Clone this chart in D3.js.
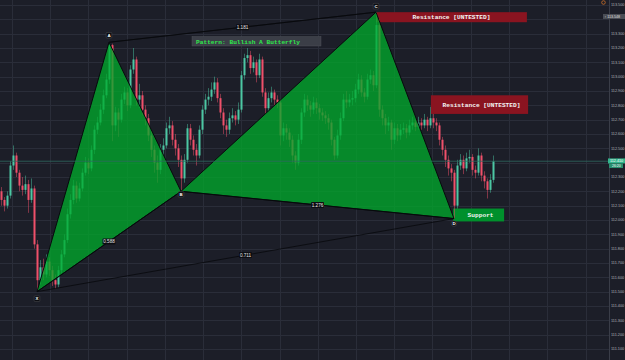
<html>
<head>
<script src="https://d3js.org/d3.v7.min.js"></script>
<style>
  body { margin: 0; background: #1c1e28; }
  svg { display: block; }
</style>
</head>
<body>
<svg id="chart" width="625" height="360"></svg>
<script>
// candle data, one entry per bar
var opens = [112.20,112.14,112.10,112.17,112.38,112.45,112.33,112.24,112.21,112.25,112.14,112.22,111.83,111.58,111.67,111.62,111.71,111.65,111.58,111.55,
 111.65,111.76,111.86,112.04,112.14,112.24,112.15,112.22,112.33,112.40,112.36,112.49,112.63,112.68,112.77,112.87,112.98,113.22,112.66,112.75,
 112.70,112.84,112.89,112.80,113.05,113.12,112.84,112.87,112.77,112.71,112.59,112.49,112.40,112.35,112.49,112.52,112.64,112.66,112.56,112.50,
 112.42,112.29,112.42,112.64,112.56,112.49,112.45,112.63,112.77,112.84,112.86,112.91,112.96,112.85,112.75,112.66,112.63,112.71,112.73,112.70,
 112.77,113.01,113.13,113.15,113.06,113.10,113.01,113.12,112.89,112.78,112.85,112.89,112.84,112.82,112.59,112.64,112.61,112.56,112.45,112.40,
 112.56,112.75,112.84,112.80,112.77,112.82,112.78,112.75,112.73,112.71,112.68,112.56,112.45,112.59,112.71,112.84,112.82,112.84,112.85,112.91,
 112.98,112.89,112.86,112.98,113.01,112.94,113.36,112.77,112.71,112.66,112.68,112.56,112.64,112.59,112.63,112.64,112.61,112.66,112.68,112.65,
 112.68,112.66,112.70,112.66,112.71,112.68,112.66,112.56,112.49,112.42,112.36,112.33,112.10,112.38,112.42,112.36,112.43,112.44,112.35,112.33,
 112.45,112.31,112.27,112.21,112.28];
var highs = [112.23,112.16,112.20,112.41,112.52,112.47,112.35,112.30,112.31,112.28,112.29,112.24,111.86,111.72,111.73,111.76,111.74,111.68,111.62,111.68,
 111.79,111.90,112.08,112.18,112.28,112.27,112.26,112.36,112.44,112.43,112.52,112.66,112.72,112.81,112.91,113.02,113.24,113.23,112.79,112.78,
 112.88,112.93,112.92,113.08,113.20,113.14,112.95,112.90,112.80,112.74,112.62,112.52,112.45,112.53,112.57,112.68,112.72,112.69,112.60,112.53,
 112.45,112.46,112.67,112.67,112.59,112.53,112.66,112.80,112.88,112.92,112.96,113.00,112.99,112.88,112.78,112.70,112.75,112.78,112.76,112.82,
 113.04,113.16,113.20,113.18,113.14,113.12,113.16,113.14,112.92,112.89,112.93,112.91,112.87,112.84,112.68,112.67,112.64,112.59,112.48,112.60,
 112.78,112.88,112.87,112.83,112.86,112.85,112.81,112.78,112.76,112.74,112.70,112.58,112.63,112.75,112.88,112.90,112.88,112.90,112.95,113.02,
 113.01,112.92,113.02,113.05,113.04,113.45,113.40,112.80,112.74,112.72,112.70,112.68,112.67,112.67,112.68,112.67,112.70,112.72,112.70,112.72,
 112.71,112.74,112.72,112.79,112.74,112.71,112.68,112.58,112.52,112.45,112.39,112.35,112.42,112.46,112.45,112.47,112.49,112.46,112.38,112.50,
 112.47,112.34,112.29,112.32,112.45];
var lows = [112.10,112.06,112.08,112.15,112.35,112.30,112.20,112.17,112.18,112.05,112.12,111.80,111.50,111.55,111.58,111.60,111.61,111.54,111.52,111.53,
 111.63,111.74,111.84,112.01,112.11,112.12,112.13,112.20,112.31,112.32,112.34,112.46,112.60,112.66,112.74,112.85,112.95,112.55,112.62,112.58,
 112.68,112.81,112.76,112.78,113.02,112.80,112.78,112.73,112.66,112.55,112.44,112.33,112.26,112.32,112.45,112.50,112.60,112.52,112.45,112.37,
 112.20,112.26,112.40,112.52,112.45,112.38,112.43,112.60,112.74,112.80,112.83,112.88,112.82,112.71,112.60,112.58,112.60,112.68,112.66,112.67,
 112.75,112.98,113.10,113.02,113.03,112.96,112.99,112.86,112.74,112.76,112.82,112.80,112.78,112.52,112.55,112.56,112.51,112.40,112.35,112.38,
 112.53,112.72,112.76,112.72,112.74,112.74,112.70,112.69,112.67,112.63,112.52,112.42,112.43,112.56,112.69,112.78,112.79,112.80,112.82,112.88,
 112.86,112.82,112.84,112.95,112.90,112.92,112.72,112.66,112.60,112.62,112.49,112.53,112.55,112.56,112.60,112.57,112.59,112.63,112.62,112.63,
 112.63,112.64,112.62,112.64,112.64,112.62,112.52,112.45,112.37,112.31,112.27,112.01,112.08,112.35,112.32,112.34,112.40,112.31,112.29,112.31,
 112.27,112.22,112.15,112.19,112.26];
var closes = [112.14,112.10,112.17,112.38,112.45,112.33,112.24,112.21,112.25,112.14,112.22,111.83,111.58,111.67,111.62,111.71,111.65,111.58,111.55,111.65,
 111.76,111.86,112.04,112.14,112.24,112.15,112.22,112.33,112.40,112.36,112.49,112.63,112.68,112.77,112.87,112.98,113.22,112.66,112.75,112.70,
 112.84,112.89,112.80,113.05,113.12,112.84,112.87,112.77,112.71,112.59,112.49,112.40,112.35,112.49,112.52,112.64,112.66,112.56,112.50,112.42,
 112.29,112.42,112.64,112.56,112.49,112.45,112.63,112.77,112.84,112.86,112.91,112.96,112.85,112.75,112.66,112.63,112.71,112.73,112.70,112.77,
 113.01,113.13,113.15,113.06,113.10,113.01,113.12,112.89,112.78,112.85,112.89,112.84,112.82,112.59,112.64,112.61,112.56,112.45,112.40,112.56,
 112.75,112.84,112.80,112.77,112.82,112.78,112.75,112.73,112.71,112.68,112.56,112.45,112.59,112.71,112.84,112.82,112.84,112.85,112.91,112.98,
 112.89,112.86,112.98,113.01,112.94,113.36,112.77,112.71,112.66,112.68,112.56,112.64,112.59,112.63,112.64,112.61,112.66,112.68,112.65,112.68,
 112.66,112.70,112.66,112.71,112.68,112.66,112.56,112.49,112.42,112.36,112.33,112.10,112.38,112.42,112.36,112.43,112.44,112.35,112.33,112.45,
 112.31,112.27,112.21,112.28,112.41];

// harmonic pattern points X A B C D (bar index, price)
var patternNames = ["X", "A", "B", "C", "D"];
var patternIdx = [12, 36, 60, 125, 151];
var patternPrice = [111.50, 113.24, 112.20, 113.45, 112.01];

// ratio lines: [from point, to point, label]
var ratioFrom = [0, 1, 2, 0];
var ratioTo = [2, 3, 4, 4];
var ratioText = ["0.588", "1.181", "1.276", "0.711"];

// zones
var zoneNames = ["Resistance [UNTESTED]", "Resistance [UNTESTED]", "Support"];
var zoneStart = [125, 143.3, 150.7];
var zoneEnd = [175.3, 175.7, 167.7];
var zoneTop = [113.45, 112.87, 112.08];
var zoneBottom = [113.38, 112.74, 111.99];
var zoneColor = ["#8a1420", "#8a1420", "#00902c"];

var priceTicks = d3.range(111.1, 113.55, 0.1);
var timeGrid = [3.7, 16.4, 29.1, 42.0, 54.7, 67.4, 80.1, 93.0, 105.7, 118.4, 131.1, 143.7, 156.7, 169.4, 182.1, 195.0];

var lastPrice = 112.41;
var highMarker = 113.548;

var svg = d3.select("#chart");
var W = 625, H = 360, axisX = 609;

var x = d3.scaleLinear().domain([0, 164]).range([1, 493]);
var y = d3.scaleLinear().domain([111.1, 113.5]).range([349, 5]);

svg.append("rect").attr("width", W).attr("height", H).attr("fill", "#1c1e28");

// grid
svg.append("g").selectAll("line").data(priceTicks).enter().append("line")
  .attr("x1", 0).attr("x2", axisX)
  .attr("y1", function (d) { return Math.round(y(d)) + 0.5; })
  .attr("y2", function (d) { return Math.round(y(d)) + 0.5; })
  .attr("stroke", "#2a2d39").attr("stroke-width", 1);
svg.append("g").selectAll("line").data(timeGrid).enter().append("line")
  .attr("x1", function (d) { return Math.round(x(d)) + 0.5; })
  .attr("x2", function (d) { return Math.round(x(d)) + 0.5; })
  .attr("y1", 0).attr("y2", H)
  .attr("stroke", "#2a2d39").attr("stroke-width", 1);

// zones (under the candles)
var zones = d3.range(zoneNames.length);
svg.append("g").selectAll("rect").data(zones).enter().append("rect")
  .attr("x", function (i) { return x(zoneStart[i]); })
  .attr("width", function (i) { return x(zoneEnd[i]) - x(zoneStart[i]); })
  .attr("y", function (i) { return y(zoneTop[i]); })
  .attr("height", function (i) { return y(zoneBottom[i]) - y(zoneTop[i]); })
  .attr("fill", function (i) { return zoneColor[i]; });

// candles
var bars = d3.range(closes.length);
var up = "#4cc7a3", down = "#f0506a";
var candles = svg.append("g");
candles.selectAll("line").data(bars).enter().append("line")
  .attr("x1", function (i) { return x(i) + 0.5; })
  .attr("x2", function (i) { return x(i) + 0.5; })
  .attr("y1", function (i) { return y(highs[i]); })
  .attr("y2", function (i) { return y(lows[i]); })
  .attr("stroke", function (i) { return closes[i] >= opens[i] ? up : down; })
  .attr("stroke-width", 0.6).style("opacity", 0.8);
candles.selectAll("rect").data(bars).enter().append("rect")
  .attr("x", function (i) { return x(i) - 0.5; })
  .attr("width", 2)
  .attr("y", function (i) { return y(Math.max(opens[i], closes[i])); })
  .attr("height", function (i) { return Math.max(1, Math.abs(y(opens[i]) - y(closes[i]))); })
  .attr("fill", function (i) { return closes[i] >= opens[i] ? up : down; });

// pattern
function pt(k) { return [x(patternIdx[k]), y(patternPrice[k])]; }
var tri1 = [pt(0), pt(1), pt(2)];
var tri2 = [pt(2), pt(3), pt(4)];
svg.append("g").selectAll("path").data([tri1, tri2]).enter().append("path")
  .attr("d", function (d) { return "M" + d.join("L") + "Z"; })
  .attr("fill", "#00ab2c").attr("fill-opacity", 0.76)
  .attr("stroke", "#07090c").attr("stroke-width", 1);

var ratios = d3.range(ratioText.length);
svg.append("g").selectAll("line").data(ratios).enter().append("line")
  .attr("x1", function (i) { return pt(ratioFrom[i])[0]; })
  .attr("y1", function (i) { return pt(ratioFrom[i])[1]; })
  .attr("x2", function (i) { return pt(ratioTo[i])[0]; })
  .attr("y2", function (i) { return pt(ratioTo[i])[1]; })
  .attr("stroke", "#07090c").attr("stroke-width", 0.8);
// A-C connector
svg.append("line")
  .attr("x1", pt(1)[0]).attr("y1", pt(1)[1])
  .attr("x2", pt(3)[0]).attr("y2", pt(3)[1])
  .attr("stroke", "#07090c").attr("stroke-width", 0.7);

var rl = svg.append("g").selectAll("g").data(ratios).enter().append("g")
  .attr("transform", function (i) {
    var a = pt(ratioFrom[i]), b = pt(ratioTo[i]);
    return "translate(" + ((a[0] + b[0]) / 2) + "," + ((a[1] + b[1]) / 2) + ")";
  });
rl.append("rect").attr("x", -6.5).attr("y", -3).attr("width", 13).attr("height", 6)
  .attr("rx", 1).attr("fill", "#0c0d12");
rl.append("text").attr("text-anchor", "middle").attr("y", 1.6)
  .attr("font-family", "Liberation Sans").attr("font-size", 4.6)
  .attr("fill", "#e8e8e8").text(function (i) { return ratioText[i]; });

// point labels
var labelDy = [7, -7, 3, -6, 5];
var pl = svg.append("g").selectAll("g").data(d3.range(5)).enter().append("g")
  .attr("transform", function (k) { return "translate(" + pt(k)[0] + "," + (pt(k)[1] + labelDy[k]) + ")"; });
pl.append("rect").attr("x", -2.8).attr("y", -2.8).attr("width", 5.6).attr("height", 5.6)
  .attr("rx", function (k) { return k === 4 ? 2.8 : 0.8; })
  .attr("fill", "#0c0d12").attr("stroke", "#777").attr("stroke-width", 0.3);
pl.append("text").attr("text-anchor", "middle").attr("y", 1.6)
  .attr("font-family", "Liberation Sans").attr("font-weight", "bold").attr("font-size", 4.4)
  .attr("fill", "#fff").text(function (k) { return patternNames[k]; });

// zone labels
svg.append("g").selectAll("text").data(zones).enter().append("text")
  .attr("x", function (i) { return (x(zoneStart[i]) + x(zoneEnd[i])) / 2 + (i === 0 ? 0 : 2); })
  .attr("y", function (i) { return (y(zoneTop[i]) + y(zoneBottom[i])) / 2 + 2; })
  .attr("text-anchor", "middle")
  .attr("font-family", "Liberation Mono").attr("font-weight", "bold").attr("font-size", 6.2)
  .attr("fill", "#f4f4f4").text(function (i) { return zoneNames[i]; });

// pattern title
svg.append("rect").attr("x", 192).attr("y", 36.5).attr("width", 129).attr("height", 9.5)
  .attr("fill", "#3b3e47").attr("stroke", "#55585f").attr("stroke-width", 0.4);
svg.append("text").attr("x", 196).attr("y", 43.5)
  .attr("font-family", "Liberation Mono").attr("font-weight", "bold").attr("font-size", 6.2)
  .attr("fill", "#2fe84c").text("Pattern: Bullish A Butterfly");

// last price line
svg.append("line").attr("x1", 0).attr("x2", axisX)
  .attr("y1", y(lastPrice)).attr("y2", y(lastPrice))
  .attr("stroke", "#2f6a60").attr("stroke-width", 0.8);

// price axis; labels hidden behind the marker boxes are left out, as in the reference
var yLast = y(lastPrice), yHigh = 16.5;
var visibleTicks = priceTicks.filter(function (d) {
  return Math.abs(y(d) - yLast) > 5 && Math.abs(y(d) - yHigh) > 4;
});
svg.append("line").attr("x1", axisX + 0.5).attr("x2", axisX + 0.5).attr("y1", 0).attr("y2", H)
  .attr("stroke", "#3a3d48");
svg.append("g").selectAll("text").data(visibleTicks).enter().append("text")
  .attr("x", 611).attr("y", function (d) { return y(d) + 1.4; })
  .attr("font-family", "Liberation Sans").attr("font-size", 3.8)
  .attr("fill", "#aeb1ba").text(function (d) { return d3.format(".3f")(d); });

svg.append("rect").attr("x", 603).attr("y", 14).attr("width", 22).attr("height", 5)
  .attr("fill", "#4a4d55");
svg.append("text").attr("x", 604.5).attr("y", 17.7)
  .attr("font-family", "Liberation Sans").attr("font-size", 3.6)
  .attr("fill", "#e0e0e0").text("\u2191 " + d3.format(".3f")(highMarker));

svg.append("rect").attr("x", 608).attr("y", yLast - 2.8).attr("width", 17).attr("height", 5)
  .attr("fill", "#35b58d");
svg.append("rect").attr("x", 609).attr("y", yLast + 2.2).attr("width", 14).attr("height", 4.6)
  .attr("fill", "#2a8f6f");
svg.append("text").attr("x", 610).attr("y", yLast + 1.2)
  .attr("font-family", "Liberation Sans").attr("font-size", 3.7)
  .attr("fill", "#fff").text(d3.format(".3f")(lastPrice));
svg.append("text").attr("x", 612).attr("y", yLast + 5.8)
  .attr("font-family", "Liberation Sans").attr("font-size", 3.5)
  .attr("fill", "#fff").text("26:20");

svg.append("circle").attr("cx", 603.5).attr("cy", 2.5).attr("r", 1.8)
  .attr("fill", "none").attr("stroke", "#e07a2a").attr("stroke-width", 0.7);
</script>
</body>
</html>
